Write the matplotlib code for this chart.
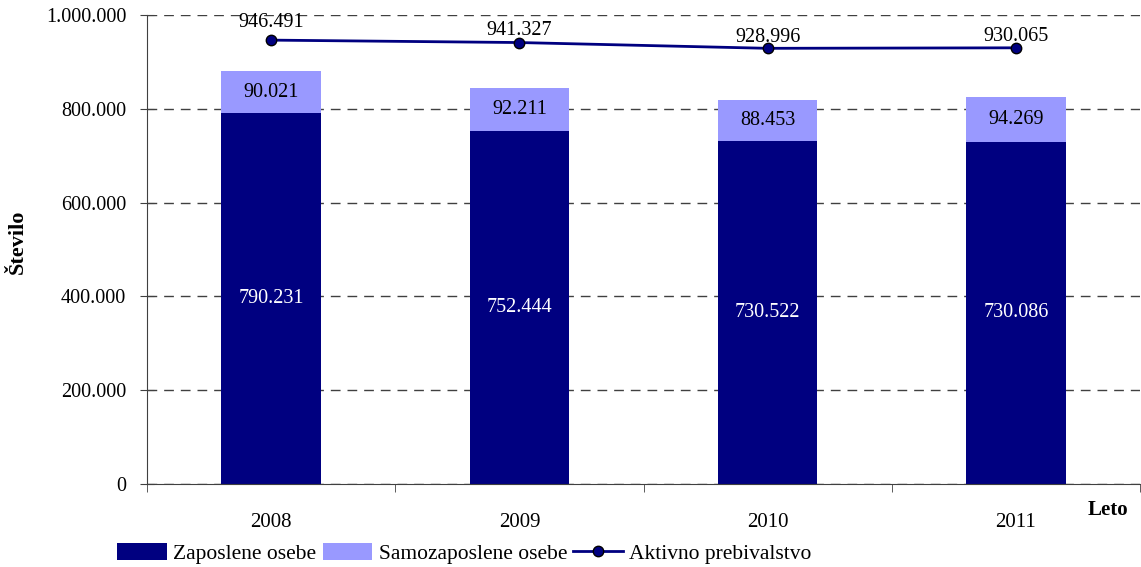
import matplotlib.pyplot as plt
import numpy as np

plt.rcParams['font.family'] = ['Liberation Serif', 'DejaVu Serif']

years = ["2008", "2009", "2010", "2011"]
zaposlene = [790231, 752444, 730522, 730086]
samozaposlene = [90021, 92211, 88453, 94269]
aktivno = [946491, 941327, 928996, 930065]
# label offsets above the line points (in points), as in the source chart
label_off = [13, 9, 8, 8]


def fmt(v):
    return "{:,}".format(int(v)).replace(",", ".")


fig = plt.figure(figsize=(11.41, 5.67), dpi=100)
ax = fig.add_axes([0.1288, 0.1464, 0.8704, 0.8271])

x = np.arange(len(years))
navy = "#000080"
light = "#9999FF"

b1 = ax.bar(x, zaposlene, width=0.4, color=navy, zorder=2, label="Zaposlene osebe")
b2 = ax.bar(x, samozaposlene, width=0.4, bottom=zaposlene, color=light, zorder=2,
            label="Samozaposlene osebe")
ln, = ax.plot(x, aktivno, color=navy, lw=2, marker="o", markersize=7.5,
              markerfacecolor=navy, markeredgecolor="black", markeredgewidth=1,
              zorder=4, label="Aktivno prebivalstvo")

for i in range(len(years)):
    ax.text(x[i], zaposlene[i] / 2, fmt(zaposlene[i]), ha="center", va="center",
            color="white", fontsize=14.5, zorder=5)
    ax.text(x[i], zaposlene[i] + samozaposlene[i] / 2, fmt(samozaposlene[i]),
            ha="center", va="center", color="black", fontsize=14.5, zorder=5)
    ax.annotate(fmt(aktivno[i]), (x[i], aktivno[i]), xytext=(0, label_off[i]),
                textcoords="offset points", ha="center", va="center",
                color="black", fontsize=14.5, zorder=5)

ax.set_xlim(-0.5, len(years) - 0.5)
ax.set_ylim(0, 1000000)
ax.set_yticks(np.arange(0, 1000001, 200000))
ax.set_yticklabels([fmt(v) for v in np.arange(0, 1000001, 200000)], fontsize=14.5)
ax.set_xticks(x)
ax.set_xticklabels(years, fontsize=15)
ax.set_xticks(np.arange(-0.5, len(years) - 0.4, 1), minor=True)
ax.tick_params(axis="x", which="major", length=0, pad=21)
ax.tick_params(axis="x", which="minor", length=6, direction="out", color="#404040")
ax.tick_params(axis="y", length=10, direction="inout", color="#404040", pad=10)

ax.yaxis.grid(True, linestyle=(0, (7, 5)), color="#404040", lw=1, zorder=0)
ax.set_axisbelow(True)
for s in ["top", "right"]:
    ax.spines[s].set_visible(False)
ax.spines["left"].set_color("#404040")
ax.spines["bottom"].set_color("#404040")

fig.text(0.016, 0.574, "Število", rotation=90, ha="center", va="center",
         fontsize=16, fontweight="bold")
fig.text(0.971, 0.1, "Leto", ha="center", va="center", fontsize=15, fontweight="bold")

fig.legend(handles=[b1, b2, ln], loc="lower left", bbox_to_anchor=(0.095, -0.01),
           ncol=3, frameon=False, fontsize=15.5, handlelength=2.3, handleheight=0.8,
           handletextpad=0.3, columnspacing=0.3, borderaxespad=0)

fig.savefig("out.png", dpi=100)
